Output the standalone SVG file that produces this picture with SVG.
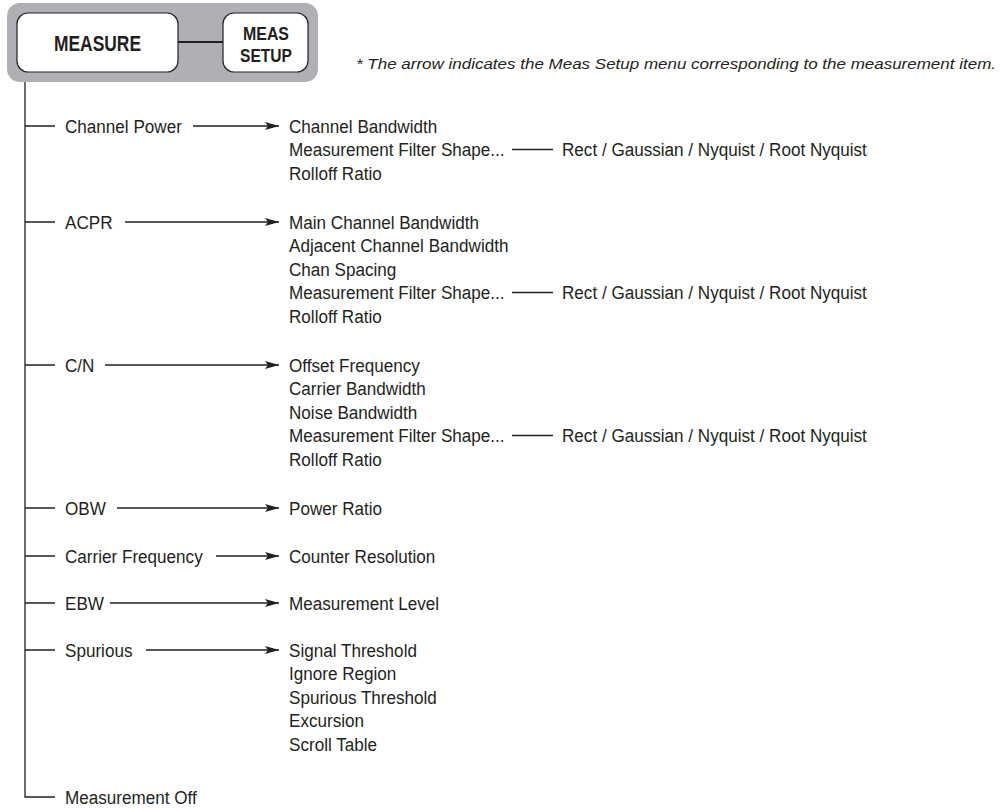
<svg xmlns="http://www.w3.org/2000/svg" width="1008" height="810" viewBox="0 0 1008 810">
<style>
  .t{font-family:"Liberation Sans",Arial,sans-serif;font-size:19px;fill:#231f20}
  .hb{font-family:"Liberation Sans",Arial,sans-serif;font-weight:bold;fill:#231f20;text-anchor:middle}
  .ln{stroke:#231f20;stroke-width:1.3;fill:none}
  .ar{stroke:#231f20;stroke-width:1.4;fill:none;marker-end:url(#ah)}
  .btn{fill:#fff;stroke:#231f20;stroke-width:1.2}
</style>
<defs>
  <marker id="ah" viewBox="0 0 14 8" refX="14" refY="4" markerWidth="14" markerHeight="8" markerUnits="userSpaceOnUse" orient="auto">
    <path d="M0,0 L14,4 L0,8 L3,4 z" fill="#231f20"/>
  </marker>
</defs>
<rect width="1008" height="810" fill="#fff"/>

<g id="header">
  <rect x="7" y="3" width="311" height="79" rx="13" fill="#aeb0b3"/>
  <line x1="178" y1="42" x2="223" y2="42" stroke="#231f20" stroke-width="2.2"/>
  <g id="measure">
    <rect class="btn" x="17" y="13" width="161" height="59" rx="11"/>
    <text class="hb" x="97.5" y="51" font-size="22" textLength="87" lengthAdjust="spacingAndGlyphs">MEASURE</text>
  </g>
  <g id="meas-setup">
    <rect class="btn" x="223" y="13" width="85" height="59" rx="11"/>
    <text class="hb" x="266" y="40" font-size="19" textLength="46" lengthAdjust="spacingAndGlyphs">MEAS</text>
    <text class="hb" x="266" y="62" font-size="19" textLength="52" lengthAdjust="spacingAndGlyphs">SETUP</text>
  </g>
</g>

<text id="note" x="356" y="69" font-family="'Liberation Sans',Arial,sans-serif" font-style="italic" font-size="15.5" fill="#231f20" textLength="640" lengthAdjust="spacingAndGlyphs">* The arrow indicates the Meas Setup menu corresponding to the measurement item.</text>

<g id="connectors">
  <path class="ln" d="M25,82 V797 H55"/>
  <path class="ln" d="M25,126 H55 M25,222 H55 M25,365 H55 M25,508 H55 M25,556 H55 M25,603 H55 M25,650 H55"/>
  <line class="ar" x1="193" y1="126" x2="279" y2="126"/>
  <line class="ar" x1="125" y1="222" x2="279" y2="222"/>
  <line class="ar" x1="105" y1="365" x2="279" y2="365"/>
  <line class="ar" x1="117" y1="508" x2="279" y2="508"/>
  <line class="ar" x1="216" y1="556" x2="279" y2="556"/>
  <line class="ar" x1="110" y1="603" x2="279" y2="603"/>
  <line class="ar" x1="146" y1="650" x2="279" y2="650"/>
  <path class="ln" d="M512,149.5 H553 M512,292.5 H553 M512,435.5 H553"/>
</g>

<g id="channel-power">
  <g transform="translate(65 0) scale(0.9 1)"><text class="t" x="0" y="133">Channel Power</text></g>
  <g transform="translate(289 0) scale(0.9 1)">
    <text class="t" x="0" y="133">Channel Bandwidth</text>
    <text class="t" x="0" y="156.5">Measurement Filter Shape...</text>
    <text class="t" x="0" y="180">Rolloff Ratio</text>
  </g>
  <g transform="translate(562 0) scale(0.9 1)"><text class="t" x="0" y="156.5">Rect / Gaussian / Nyquist / Root Nyquist</text></g>
</g>
<g id="acpr">
  <g transform="translate(65 0) scale(0.9 1)"><text class="t" x="0" y="229">ACPR</text></g>
  <g transform="translate(289 0) scale(0.9 1)">
    <text class="t" x="0" y="229">Main Channel Bandwidth</text>
    <text class="t" x="0" y="252.5">Adjacent Channel Bandwidth</text>
    <text class="t" x="0" y="276">Chan Spacing</text>
    <text class="t" x="0" y="299.5">Measurement Filter Shape...</text>
    <text class="t" x="0" y="323">Rolloff Ratio</text>
  </g>
  <g transform="translate(562 0) scale(0.9 1)"><text class="t" x="0" y="299.5">Rect / Gaussian / Nyquist / Root Nyquist</text></g>
</g>
<g id="cn">
  <g transform="translate(65 0) scale(0.9 1)"><text class="t" x="0" y="372">C/N</text></g>
  <g transform="translate(289 0) scale(0.9 1)">
    <text class="t" x="0" y="372">Offset Frequency</text>
    <text class="t" x="0" y="395.5">Carrier Bandwidth</text>
    <text class="t" x="0" y="419">Noise Bandwidth</text>
    <text class="t" x="0" y="442.5">Measurement Filter Shape...</text>
    <text class="t" x="0" y="466">Rolloff Ratio</text>
  </g>
  <g transform="translate(562 0) scale(0.9 1)"><text class="t" x="0" y="442.5">Rect / Gaussian / Nyquist / Root Nyquist</text></g>
</g>
<g id="obw">
  <g transform="translate(65 0) scale(0.9 1)"><text class="t" x="0" y="515">OBW</text></g>
  <g transform="translate(289 0) scale(0.9 1)"><text class="t" x="0" y="515">Power Ratio</text></g>
</g>
<g id="carrier-frequency">
  <g transform="translate(65 0) scale(0.9 1)"><text class="t" x="0" y="563">Carrier Frequency</text></g>
  <g transform="translate(289 0) scale(0.9 1)"><text class="t" x="0" y="563">Counter Resolution</text></g>
</g>
<g id="ebw">
  <g transform="translate(65 0) scale(0.9 1)"><text class="t" x="0" y="610">EBW</text></g>
  <g transform="translate(289 0) scale(0.9 1)"><text class="t" x="0" y="610">Measurement Level</text></g>
</g>
<g id="spurious">
  <g transform="translate(65 0) scale(0.9 1)"><text class="t" x="0" y="657">Spurious</text></g>
  <g transform="translate(289 0) scale(0.9 1)">
    <text class="t" x="0" y="657">Signal Threshold</text>
    <text class="t" x="0" y="680.5">Ignore Region</text>
    <text class="t" x="0" y="704">Spurious Threshold</text>
    <text class="t" x="0" y="727.5">Excursion</text>
    <text class="t" x="0" y="751">Scroll Table</text>
  </g>
</g>
<g id="measurement-off">
  <g transform="translate(65 0) scale(0.9 1)"><text class="t" x="0" y="804">Measurement Off</text></g>
</g>
</svg>
